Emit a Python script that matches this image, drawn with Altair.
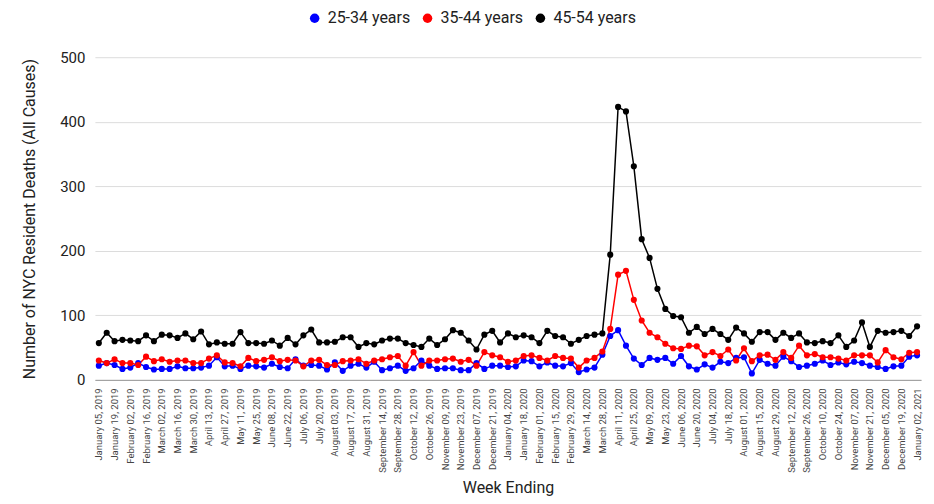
import altair as alt
import pandas as pd

# Week-ending dates (categories): every Saturday from Jan 05, 2019 to Jan 02, 2021
weeks = [d.strftime("%B %d, %Y") for d in pd.date_range("2019-01-05", "2021-01-02", freq="7D")]

series_names = ["25-34 years", "35-44 years", "45-54 years"]
series_colors = ["blue", "red", "black"]

age_25_34 = [22, 26, 23, 17, 19, 26, 20, 16, 17, 17, 21, 18, 18, 19, 22, 35, 21, 22, 17, 22,
             21, 19, 25, 20, 18, 32, 22, 23, 22, 16, 27, 14, 22, 25, 19, 28, 15, 18, 22, 14,
             18, 30, 22, 17, 18, 18, 15, 15, 26, 17, 22, 22, 20, 21, 30, 29, 21, 27, 22, 21,
             26, 12, 16, 19, 39, 68, 77, 53, 33, 23, 34, 31, 34, 25, 37, 21, 16, 24, 19, 28,
             26, 34, 35, 10, 31, 25, 22, 36, 29, 20, 22, 25, 30, 23, 27, 24, 28, 26, 22, 20,
             17, 21, 22, 36, 38]

age_35_44 = [30, 26, 32, 26, 26, 23, 36, 29, 32, 28, 30, 30, 26, 26, 33, 38, 27, 26, 21, 34,
             29, 31, 35, 29, 31, 30, 21, 30, 31, 23, 23, 29, 30, 32, 25, 30, 32, 35, 37, 22,
             43, 22, 30, 30, 32, 33, 28, 31, 22, 43, 38, 35, 28, 30, 37, 38, 34, 30, 37, 34,
             33, 19, 30, 34, 44, 79, 163, 169, 124, 92, 73, 66, 56, 49, 48, 53, 52, 38, 43, 37,
             47, 30, 49, 29, 38, 39, 31, 43, 34, 53, 38, 40, 35, 35, 33, 30, 38, 38, 38, 27,
             46, 35, 32, 42, 43]

age_45_54 = [57, 73, 60, 62, 61, 60, 69, 60, 70, 69, 65, 72, 63, 75, 55, 58, 56, 56, 74, 57,
             57, 56, 61, 53, 65, 55, 69, 78, 58, 58, 59, 66, 66, 51, 57, 55, 61, 64, 64, 57,
             54, 51, 64, 54, 63, 77, 73, 61, 47, 70, 76, 58, 72, 66, 69, 66, 57, 76, 68, 66,
             56, 62, 68, 70, 72, 194, 423, 416, 331, 218, 189, 141, 110, 99, 97, 73, 82, 71, 79, 71,
             62, 81, 72, 59, 74, 74, 62, 73, 65, 72, 58, 57, 60, 57, 69, 51, 61, 89, 51, 76,
             73, 74, 76, 68, 83]

y_ticks = [0, 100, 200, 300, 400, 500]

rows = []
for name, vals in zip(series_names, [age_25_34, age_35_44, age_45_54]):
    for w, v in zip(weeks, vals):
        rows.append({"Week": w, "Age": name, "Deaths": v})
df = pd.DataFrame(rows)

FONT = "Roboto"

x_enc = alt.X(
    "Week:O",
    sort=weeks,
    scale=alt.Scale(padding=0.5),
    axis=alt.Axis(
        values=weeks[::2],
        title="Week Ending",
        labelAngle=270,
        labelFontSize=9.5,
        labelColor="#444",
        labelFont=FONT,
        labelPadding=8,
        ticks=False,
        tickSize=0,
        grid=False,
        domainColor="#999",
        titleFont=FONT,
        titleFontSize=16,
        titleFontWeight="normal",
        titleColor="#222",
        titleBaseline="alphabetic",
        titleY=113,
    ),
)
y_enc = alt.Y(
    "Deaths:Q",
    scale=alt.Scale(domain=[0, 500], nice=False),
    axis=alt.Axis(
        values=y_ticks,
        title="Number of NYC Resident Deaths (All Causes)",
        labelFontSize=15,
        labelColor="#222",
        labelFont=FONT,
        labelPadding=10,
        ticks=False,
        tickSize=0,
        domain=False,
        gridColor="#dcdcdc",
        titleFont=FONT,
        titleFontSize=16,
        titleFontWeight="normal",
        titleColor="#222",
        titlePadding=22,
    ),
)
color_scale = alt.Scale(domain=series_names, range=series_colors)

lines = alt.Chart(df).mark_line(strokeWidth=1.5).encode(
    x=x_enc, y=y_enc,
    stroke=alt.Stroke("Age:N", scale=color_scale, legend=None),
)
points = alt.Chart(df).mark_circle(size=38, opacity=1).encode(
    x=x_enc, y=y_enc,
    color=alt.Color(
        "Age:N", scale=color_scale,
        legend=alt.Legend(
            title=None,
            orient="none",
            legendX=212,
            legendY=-47,
            direction="horizontal",
            symbolType="circle",
            symbolSize=90,
            labelFont=FONT,
            labelFontSize=16,
            labelColor="#222",
            labelOffset=5,
            columnPadding=9,
        ),
    ),
)

chart = alt.layer(lines, points).resolve_scale(color="independent", stroke="independent").properties(
    width=827,
    height=323,
    autosize=alt.AutoSizeParams(type="none"),
    padding={"left": 87, "top": 49, "right": 5, "bottom": 116},
).configure_view(stroke=None)

chart.save("out.html", embed_options={"renderer": "svg", "actions": False})
